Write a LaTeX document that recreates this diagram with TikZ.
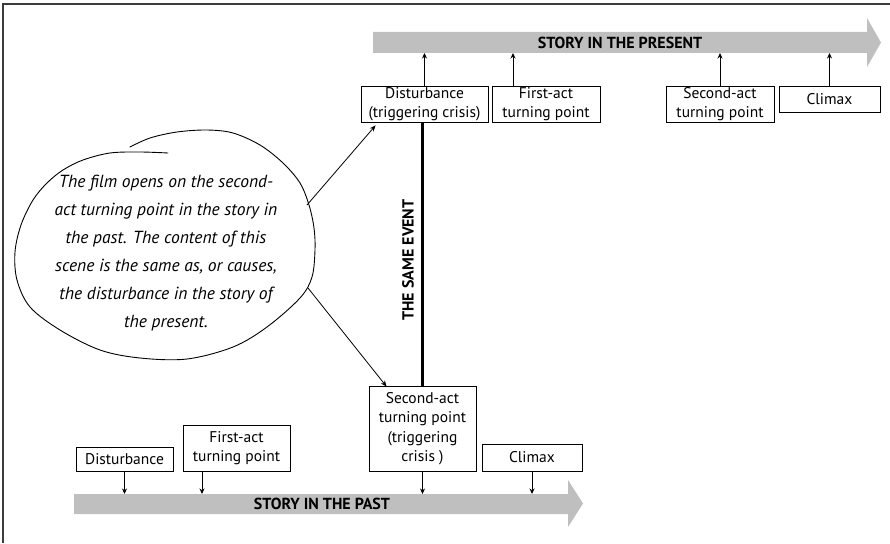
\documentclass[tikz,border=0pt]{standalone}
\usepackage{fontspec}
\setmainfont{PT Sans}
\usetikzlibrary{arrows.meta}
\definecolor{bandgray}{RGB}{191,191,191}
\definecolor{framegray}{RGB}{60,60,60}
\begin{document}
\begin{tikzpicture}[x=1pt,y=-1pt,
  eventbox/.style={draw, line width=0.9pt, inner sep=0pt, align=center,
    font=\fontsize{15.5}{19.5}\selectfont},
  bandlabel/.style={font=\fontsize{16}{18}\selectfont\bfseries},
  tick/.style={line width=0.9pt, -{Stealth[length=5.5pt,width=5pt]}},
  pointer/.style={line width=0.8pt, -{Stealth[length=6pt,width=5pt]}},
  notetext/.style={align=center, font=\fontsize{17.5}{28}\selectfont\itshape}]
\useasboundingbox (0,0) rectangle (890,543);
% page frame (top and left rules)
\draw[framegray, line width=1.2pt] (3,543) -- (3,4) -- (890,4);

% ---- story in the present (top band) ----
\fill[bandgray] (373,32) -- (867,32) -- (867,18) -- (881,42.5) -- (867,67) -- (867,53) -- (373,53) -- cycle;
\node[bandlabel] (present) at (620,43) {STORY IN THE PRESENT};
\coordinate (presentbase) at (620,53);

\node[eventbox, minimum width=127pt, minimum height=36pt] (pD) at (424.5,104) {Disturbance\\(triggering crisis)};
\node[eventbox, minimum width=108pt, minimum height=36pt] (pF) at (546,104) {First-act\\turning point};
\node[eventbox, minimum width=108pt, minimum height=36pt] (pS) at (720,104) {Second-act\\turning point};
\node[eventbox, minimum width=101pt, minimum height=26pt] (pC) at (829.5,99) {Climax};

\draw[tick] (pD.north) -- (pD.north |- presentbase);
\draw[tick] ([xshift=-33pt]pF.north) -- ([xshift=-33pt]pF.north |- presentbase);
\draw[tick] (pS.north) -- (pS.north |- presentbase);
\draw[tick] (pC.north) -- (pC.north |- presentbase);

% ---- story in the past (bottom band) ----
\fill[bandgray] (74,494) -- (568,494) -- (568,480) -- (583,503.5) -- (568,527) -- (568,514) -- (74,514) -- cycle;
\node[bandlabel] (past) at (322,504) {STORY IN THE PAST};
\coordinate (pastbase) at (322,494);

\node[eventbox, minimum width=97pt, minimum height=24pt] (qD) at (124.5,459) {Disturbance};
\node[eventbox, minimum width=107pt, minimum height=46pt] (qF) at (236.5,448) {First-act\\turning point};
\node[eventbox, minimum width=107pt, minimum height=85pt] (qS) at (422.5,428.5) {Second-act\\turning point\\(triggering\\crisis )};
\node[eventbox, minimum width=100pt, minimum height=27pt] (qC) at (532,457.5) {Climax};

\draw[tick] (qD.south) -- (qD.south |- pastbase);
\draw[tick] ([xshift=-34.5pt]qF.south) -- ([xshift=-34.5pt]qF.south |- pastbase);
\draw[tick] (qS.south) -- (qS.south |- pastbase);
\draw[tick] (qC.south) -- (qC.south |- pastbase);

% ---- link between the two crises ----
\draw[line width=3.6pt] (qS.north) -- (qS.north |- pD.south);
\node[bandlabel, rotate=90] (same) at (408,260) {THE SAME EVENT};

% ---- speech bubble (hand-drawn outline, ends overlap at the top) ----
\draw[line width=0.9pt, line cap=round] plot[smooth, tension=0.55] coordinates {
  (130,147) (150,138) (177,132) (207,130) (233,133) (260,145) (283,163)
  (300,183) (309,205) (314,228) (315,250) (312,277) (300,298) (267,327)
  (233,347) (187,359) (140,358) (100,350) (60,330) (30,307) (17,280)
  (15,252) (21,225) (33,200) (47,183) (63,170) (83,160) (110,153)
  (140,152) (168,153)};
\node[notetext] (note) at (166,253) {The film opens on the second-\\act turning point in the story in\\the past. The content of this\\scene is the same as, or causes,\\the disturbance in the story of\\the present.};
\coordinate (noteup) at (307,205);
\coordinate (notedown) at (308,288);
\draw[pointer] (noteup) -- ([xshift=15pt,yshift=-3pt]pD.south west);
\draw[pointer] (notedown) -- ([xshift=18pt,yshift=-1pt]qS.north west);
\end{tikzpicture}
\end{document}
